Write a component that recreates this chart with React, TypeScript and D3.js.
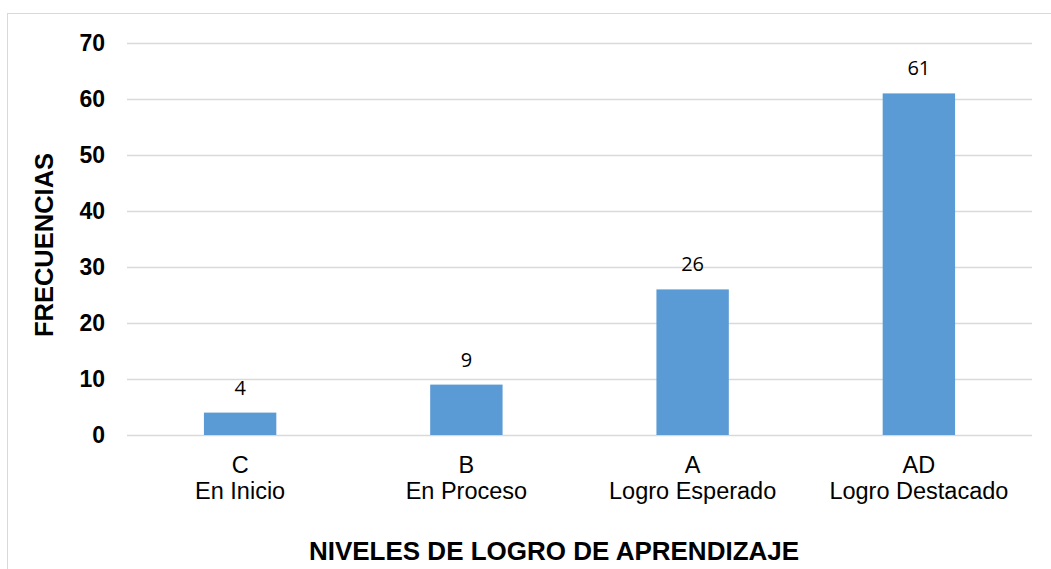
import * as d3 from "d3";
import React, { useEffect, useRef } from "react";

const codes = ["C", "B", "A", "AD"];
const levels = ["En Inicio", "En Proceso", "Logro Esperado", "Logro Destacado"];
const frecuencias = [4, 9, 26, 61];
const yTicks = [0, 10, 20, 30, 40, 50, 60, 70];

const W = 1051;
const H = 569;

const App: React.FC = () => {
  const svgRef = useRef<SVGSVGElement>(null);

  useEffect(() => {
    const svg = d3.select(svgRef.current);
    svg.selectAll("*").remove();

    // marco del gráfico
    svg.append("rect")
      .attr("x", 7.5).attr("y", 13.5)
      .attr("width", W + 20).attr("height", H + 20)
      .attr("fill", "#fff")
      .attr("stroke", "#d9d9d9");

    const left = 127, right = 1032, top = 43, bottom = 435;

    const x = d3.scaleBand<string>()
      .domain(codes)
      .range([left, right])
      .padding(0);

    const y = d3.scaleLinear()
      .domain([0, 70])
      .range([bottom, top]);

    // líneas de cuadrícula
    svg.append("g")
      .selectAll("line")
      .data(yTicks)
      .enter()
      .append("line")
      .attr("x1", left).attr("x2", right)
      .attr("y1", d => y(d) + 0.5).attr("y2", d => y(d) + 0.5)
      .attr("stroke", "#d9d9d9")
      .attr("stroke-width", 1.3);

    // etiquetas del eje Y
    svg.append("g")
      .selectAll("text")
      .data(yTicks)
      .enter()
      .append("text")
      .attr("x", 105)
      .attr("y", d => y(d))
      .attr("dy", "0.36em")
      .attr("text-anchor", "end")
      .style("font-family", "'Liberation Sans', Arial, sans-serif")
      .style("font-weight", "bold")
      .style("font-size", "23px")
      .attr("fill", "#000")
      .text(d => d);

    const bw = x.bandwidth() * 0.32;

    // barras
    svg.append("g")
      .selectAll("rect")
      .data(frecuencias)
      .enter()
      .append("rect")
      .attr("x", (_, i) => x(codes[i])! + x.bandwidth() / 2 - bw / 2)
      .attr("y", d => y(d))
      .attr("width", bw)
      .attr("height", d => y(0) - y(d))
      .attr("fill", "#5b9bd5");

    // etiquetas de datos
    svg.append("g")
      .selectAll("text")
      .data(frecuencias)
      .enter()
      .append("text")
      .attr("x", (_, i) => x(codes[i])! + x.bandwidth() / 2)
      .attr("y", d => y(d) - 18)
      .attr("text-anchor", "middle")
      .style("font-family", "'Open Sans', sans-serif")
      .style("font-size", "20px")
      .attr("fill", "#000")
      .text(d => d);

    // categorías
    const cat = svg.append("g")
      .selectAll("text")
      .data(codes)
      .enter()
      .append("text")
      .attr("text-anchor", "middle")
      .style("font-family", "'Liberation Sans', Arial, sans-serif")
      .style("font-size", "23.5px")
      .attr("fill", "#000");
    cat.append("tspan")
      .attr("x", d => x(d)! + x.bandwidth() / 2)
      .attr("y", 473)
      .text(d => d);
    cat.append("tspan")
      .attr("x", d => x(d)! + x.bandwidth() / 2)
      .attr("y", 499)
      .text((_, i) => levels[i]);

    // títulos de ejes
    svg.append("text")
      .attr("x", 554)
      .attr("y", 560)
      .attr("text-anchor", "middle")
      .style("font-family", "'Liberation Sans', Arial, sans-serif")
      .style("font-weight", "bold")
      .style("font-size", "26px")
      .attr("fill", "#000")
      .text("NIVELES DE LOGRO DE APRENDIZAJE");

    svg.append("text")
      .attr("transform", "translate(53,245) rotate(-90)")
      .attr("text-anchor", "middle")
      .style("font-family", "'Liberation Sans', Arial, sans-serif")
      .style("font-weight", "bold")
      .style("font-size", "25.5px")
      .attr("fill", "#000")
      .text("FRECUENCIAS");
  }, []);

  return (
    <svg
      ref={svgRef}
      width={W}
      height={H}
      style={{ position: "absolute", left: 0, top: 0, background: "#fff" }}
    />
  );
};

export default App;
